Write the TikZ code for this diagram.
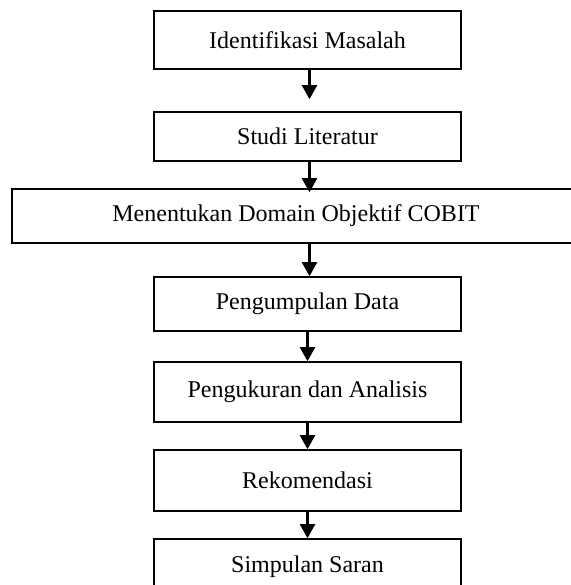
\documentclass[tikz,border=0pt]{standalone}
\usepackage{fontspec}
\setmainfont{Liberation Serif}
\usetikzlibrary{arrows.meta,positioning}

\begin{document}
\begin{tikzpicture}[x=0.5pt, y=-0.5pt, font=\fontsize{12}{14}\selectfont,
    stepbox/.style={draw, rectangle, line width=0.8pt, inner sep=0pt, minimum width=153.5pt},
    flow/.style={-{Triangle[width=7.5pt,length=7pt]}, line width=1.1pt, black}]
    \useasboundingbox (0,0) rectangle (570,585);

    \node[stepbox, minimum height=29pt] (masalah) at (307.5, 40) {Identifikasi Masalah};
    \node[stepbox, minimum height=24.5pt] (literatur) at (307.5, 136.5) {Studi Literatur};
    \node[stepbox, minimum height=27pt, minimum width=284pt] (domain) at (296, 216) {Menentukan Domain Objektif COBIT};
    \node[stepbox, minimum height=27pt] (data) at (307.5, 304) {Pengumpulan Data};
    \node[stepbox, minimum height=30pt] (analisis) at (307.5, 392) {Pengukuran dan Analisis};
    \node[stepbox, minimum height=30.5pt] (rekomendasi) at (307.5, 480.5) {Rekomendasi};
    \node[stepbox, minimum height=28pt] (simpulan) at (307.5, 567) {Simpulan Saran};

    \draw[flow, shorten >=6pt] ([xshift=1pt]masalah.south) -- ([xshift=1pt]literatur.north);
    \draw[flow, shorten >=-2pt] ([xshift=1pt]literatur.south) -- ([xshift=1pt]literatur.south |- domain.north);
    \draw[flow] ([xshift=1pt]data.north |- domain.south) -- ([xshift=1pt]data.north);
    \draw[flow] (data.south) -- (analisis.north);
    \draw[flow] (analisis.south) -- (rekomendasi.north);
    \draw[flow] (rekomendasi.south) -- (simpulan.north);
\end{tikzpicture}
\end{document}
